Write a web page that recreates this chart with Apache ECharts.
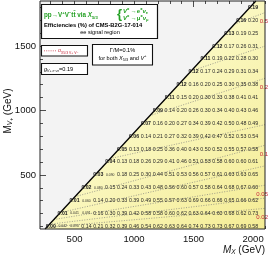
<!DOCTYPE html>
<html><head><meta charset="utf-8">
<script src="https://cdn.jsdelivr.net/npm/echarts@6/dist/echarts.min.js"></script>
<style>html,body{margin:0;padding:0;background:#fff}#c{width:270px;height:259px}</style>
</head><body><div id="c"></div>
<script>
// ---- data ----
const xTickLabels = [500, 1000, 1500, 2000];
const yTickLabels = [500, 1000, 1500];
const topMass = 173;               // kinematic boundary M_V+ = M_X - m_t
const rowsMV = [100,200,300,400,500,600,700,800,900,1000,1100,1200,1300,1400,1500,1600,1700,1800];
// efficiencies (%) per M_V+ row, first entry at M_X = M_V+ + 200, then every 100 GeV up to 2000
const eff_MV100  = [0.00,0.042,0.090,0.14,0.21,0.32,0.39,0.46,0.54,0.62,0.63,0.64,0.74,0.73,0.73,0.67,0.69,0.58];
const eff_MV200  = [0.01,0.041,0.091,0.16,0.30,0.39,0.42,0.58,0.58,0.60,0.62,0.63,0.64,0.60,0.68,0.62,0.73];
const eff_MV300  = [0.01,0.060,0.14,0.20,0.33,0.39,0.49,0.55,0.57,0.63,0.69,0.66,0.66,0.65,0.66,0.62];
const eff_MV400  = [0.02,0.080,0.15,0.24,0.33,0.43,0.48,0.56,0.60,0.57,0.58,0.64,0.68,0.67,0.60];
const eff_MV500  = [0.03,0.090,0.18,0.25,0.30,0.44,0.51,0.53,0.56,0.57,0.61,0.63,0.63,0.65];
const eff_MV600  = [0.04,0.13,0.18,0.26,0.29,0.41,0.46,0.51,0.53,0.58,0.60,0.60,0.61];
const eff_MV700  = [0.05,0.13,0.18,0.25,0.36,0.40,0.43,0.50,0.52,0.55,0.57,0.58];
const eff_MV800  = [0.06,0.14,0.21,0.27,0.32,0.39,0.42,0.47,0.52,0.53,0.54];
const eff_MV900  = [0.07,0.16,0.20,0.27,0.34,0.39,0.42,0.50,0.48,0.49];
const eff_MV1000 = [0.09,0.14,0.20,0.26,0.30,0.34,0.40,0.43,0.46];
const eff_MV1100 = [0.11,0.15,0.20,0.30,0.33,0.38,0.41,0.41];
const eff_MV1200 = [0.12,0.16,0.20,0.25,0.30,0.35,0.38];
const eff_MV1300 = [0.12,0.17,0.24,0.29,0.31,0.34];
const eff_MV1400 = [0.11,0.19,0.22,0.28,0.30];
const eff_MV1500 = [0.12,0.17,0.26,0.31];
const eff_MV1600 = [0.13,0.19,0.25];
const eff_MV1700 = [0.16,0.20];
const eff_MV1800 = [0.19];
const effRows = [eff_MV100,eff_MV200,eff_MV300,eff_MV400,eff_MV500,eff_MV600,eff_MV700,eff_MV800,eff_MV900,
  eff_MV1000,eff_MV1100,eff_MV1200,eff_MV1300,eff_MV1400,eff_MV1500,eff_MV1600,eff_MV1700,eff_MV1800];
// cross-section contours (M_X, M_V+) in GeV
const sigma_0p5  = [[1843,1670],[2100,1760]];
const sigma_0p3  = [[1480,1307],[2100,1500]];
const sigma_0p2  = [[1133,960],[2100,1250]];
const sigma_0p15 = [[800,627],[2100,890]];
const sigma_0p1  = [[504,331],[2100,730]];
const sigma_0p07 = [[380,207],[2100,570]];
const sigma_0p05 = [[327,154],[2100,420]];
const sigma_0p03 = [[290,117],[2100,320]];
const sigma_0p02 = [[266,93],[2100,240]];
const contourLines = [sigma_0p5,sigma_0p3,sigma_0p2,sigma_0p15,sigma_0p1,sigma_0p07,sigma_0p05,sigma_0p03,sigma_0p02];
const labelledContours = [['0.5',sigma_0p5],['0.2',sigma_0p2],['0.1',sigma_0p1],['0.05',sigma_0p05],['0.02',sigma_0p02]];

// ---- chart ----
const X0 = 210, X1 = 2100, Y0 = 80, Y1 = 1850;
const FONT = '"Liberation Sans", Arial, sans-serif';
const cells = [];
rowsMV.forEach((mv, i) => effRows[i].forEach((e, j) => cells.push([mv + 200 + 100 * j, mv, e, j === 0 ? 1 : 0])));

const xMinor = [], yMinor = [];
for (let m = 300; m <= 2100; m += 100) if (m % 500) xMinor.push(m);
for (let m = 100; m <= 1800; m += 100) if (m % 500) yMinor.push(m);

const diagPts = [[Y0 + topMass, Y0], [Y1 + topMass, Y1]];
const polyPts = [diagPts[0], diagPts[1], [X1, Y1], [X1, Y0]];

function axisX(pos, vals, len, labels) {
  return {type:'value', min:X0, max:X1, position:pos, axisLine:{show:false}, splitLine:{show:false},
    axisTick:{show:true, inside:true, length:len, customValues:vals, lineStyle:{color:'#222', width:0.8}},
    axisLabel:{show:labels, customValues:vals, formatter: v => String(v), fontSize:9.5, margin:5, color:'#111', fontFamily:FONT}};
}
function axisY(pos, vals, len, labels) {
  return {type:'value', min:Y0, max:Y1, position:pos, axisLine:{show:false}, splitLine:{show:false},
    axisTick:{show:true, inside:true, length:len, customValues:vals, lineStyle:{color:'#222', width:0.8}},
    axisLabel:{show:labels, customValues:vals, formatter: v => String(v), fontSize:9.5, margin:4, color:'#111', fontFamily:FONT}};
}

const series = [];
series.push({type:'custom', silent:true, z:1, data:[0], clip:true,
  renderItem:(p, api) => ({type:'polygon', shape:{points: polyPts.map(q => api.coord(q))},
    style:{fill: new echarts.graphic.LinearGradient(0,0,1,1,[{offset:0,color:'#fdfde6'},{offset:0.4,color:'#fbf9c6'},{offset:1,color:'#f4ec94'}])}})});
contourLines.forEach(c => series.push({type:'line', silent:true, z:2, data:c, symbol:'none', clip:true,
  lineStyle:{type:[1,1.5], color:'#7a7a7a', width:0.7}}));
series.push({type:'line', silent:true, z:3, data:diagPts, symbol:'none', lineStyle:{color:'#000', width:1.3}});
series.push({type:'custom', silent:true, z:4, data:cells, clip:true,
  renderItem:(p, api) => {
    const pt = api.coord([api.value(0), api.value(1)]);
    const e = api.value(2), diag = api.value(3) === 1;
    const tiny = !diag && e < 0.1;
    const txt = tiny ? e.toFixed(3) : e.toFixed(2);
    const font = diag ? 'bold 5.2px ' + FONT : (tiny ? '3.4px ' + FONT : '5.3px ' + FONT);
    return {type:'text', x:pt[0], y:pt[1], style:{text:txt, font:font, fill: diag ? '#222' : '#2a2a2a',
      align:'center', verticalAlign:'middle', textAlign:'center', textVerticalAlign:'middle'}};
  }});
series.push({type:'custom', silent:true, z:5, data:labelledContours.map(l => [l[1][l[1].length-1][0], l[1][l[1].length-1][1], l[0]]),
  renderItem:(p, api) => {
    const pt = api.coord([api.value(0), api.value(1)]);
    return {type:'text', x:pt[0] + 3, y:pt[1] + 9, style:{text: String(api.value(2)), font:'6px ' + FONT, fill:'#c8283a',
      align:'right', verticalAlign:'middle', textAlign:'right', textVerticalAlign:'middle'}};
  }, dimensions:['x','y',{name:'t',type:'ordinal'}]});

const green = '#23a023';
const graphic = [
  {type:'rect', z:50, shape:{x:40, y:1, width:225, height:228}, style:{fill:'none', stroke:'#222', lineWidth:1}},
  // box 1
  {type:'rect', z:60, shape:{x:41.5, y:4.5, width:116, height:34}, style:{fill:'#fff', stroke:'#111', lineWidth:1.2}},
  {type:'text', z:61, x:44, y:15, style:{text:'{g|pp→V}{gs|+}{g|V}{gs|−}{g|tt̄ via }{gi|X}{gb|5/3}',
    verticalAlign:'middle', textVerticalAlign:'middle',
    rich:{g:{fontSize:6.3, fontWeight:'bold', fill:green, color:green, fontFamily:FONT, lineHeight:9},
          gi:{fontSize:6.3, fontWeight:'bold', fontStyle:'italic', fill:green, color:green, fontFamily:FONT, lineHeight:9},
          gs:{fontSize:4.2, fontWeight:'bold', fill:green, color:green, fontFamily:FONT, verticalAlign:'top', lineHeight:9},
          gb:{fontSize:4.2, fontWeight:'bold', fill:green, color:green, fontFamily:FONT, verticalAlign:'bottom', lineHeight:9}}}},
  {type:'text', z:61, x:117, y:14.5, style:{text:'{', font:'bold 13px ' + FONT, fill:green, verticalAlign:'middle', textVerticalAlign:'middle'}},
  {type:'text', z:61, x:123, y:11, style:{text:'{gi|V}{gs|±}{g| →e}{gs|±}{gi|ν}{gb|e}', verticalAlign:'middle', textVerticalAlign:'middle',
    rich:{g:{fontSize:6, fontWeight:'bold', fill:green, color:green, fontFamily:FONT, lineHeight:8},
          gi:{fontSize:6, fontWeight:'bold', fontStyle:'italic', fill:green, color:green, fontFamily:FONT, lineHeight:8},
          gs:{fontSize:4, fontWeight:'bold', fill:green, color:green, fontFamily:FONT, verticalAlign:'top', lineHeight:8},
          gb:{fontSize:4, fontWeight:'bold', fill:green, color:green, fontFamily:FONT, verticalAlign:'bottom', lineHeight:8}}}},
  {type:'text', z:61, x:123, y:18, style:{text:'{gi|V}{gs|±}{g| →μ}{gs|±}{gi|ν}{gb|μ}', verticalAlign:'middle', textVerticalAlign:'middle',
    rich:{g:{fontSize:6, fontWeight:'bold', fill:green, color:green, fontFamily:FONT, lineHeight:8},
          gi:{fontSize:6, fontWeight:'bold', fontStyle:'italic', fill:green, color:green, fontFamily:FONT, lineHeight:8},
          gs:{fontSize:4, fontWeight:'bold', fill:green, color:green, fontFamily:FONT, verticalAlign:'top', lineHeight:8},
          gb:{fontSize:4, fontWeight:'bold', fill:green, color:green, fontFamily:FONT, verticalAlign:'bottom', lineHeight:8}}}},
  {type:'text', z:61, x:44, y:25, style:{text:'Efficiencies (%) of CMS-B2G-17-014', font:'bold 5.8px ' + FONT, fill:'#000', verticalAlign:'middle', textVerticalAlign:'middle'}},
  {type:'text', z:61, x:100, y:32, style:{text:'ee signal region', font:'5.6px ' + FONT, fill:'#000', align:'center', textAlign:'center', verticalAlign:'middle', textVerticalAlign:'middle'}},
  // box 2
  {type:'rect', z:60, shape:{x:41.5, y:45.5, width:46, height:10.5}, style:{fill:'#fff', stroke:'#111', lineWidth:1.1}},
  {type:'line', z:61, shape:{x1:44, y1:50.8, x2:56, y2:50.8}, style:{stroke:'#c8283a', lineWidth:0.7, lineDash:[1,1.2]}},
  {type:'text', z:61, x:58, y:51, style:{text:'{r|σ}{rb|X5/3 V+ V−}', verticalAlign:'middle', textVerticalAlign:'middle',
    rich:{r:{fontSize:5, fill:'#c8283a', color:'#c8283a', fontFamily:FONT, lineHeight:7},
          rb:{fontSize:3.4, fill:'#c8283a', color:'#c8283a', fontFamily:FONT, verticalAlign:'bottom', lineHeight:7}}}},
  // box 3
  {type:'rect', z:60, shape:{x:92.5, y:44.5, width:60, height:20.5}, style:{fill:'#fff', stroke:'#111', lineWidth:1.1}},
  {type:'text', z:61, x:122.5, y:50, style:{text:'Γ/M=0.1%', font:'5.6px ' + FONT, fill:'#000', align:'center', textAlign:'center', verticalAlign:'middle', textVerticalAlign:'middle'}},
  {type:'text', z:61, x:122.5, y:58, style:{text:'{n|for both }{i|X}{b|5/3}{n| and }{i|V}{s|+}', align:'center', textAlign:'center', verticalAlign:'middle', textVerticalAlign:'middle',
    rich:{n:{fontSize:5.6, fill:'#000', color:'#000', fontFamily:FONT, lineHeight:8},
          i:{fontSize:5.6, fontStyle:'italic', fill:'#000', color:'#000', fontFamily:FONT, lineHeight:8},
          s:{fontSize:3.8, fill:'#000', color:'#000', fontFamily:FONT, verticalAlign:'top', lineHeight:8},
          b:{fontSize:3.8, fill:'#000', color:'#000', fontFamily:FONT, verticalAlign:'bottom', lineHeight:8}}}},
  // box 4
  {type:'rect', z:60, shape:{x:41.5, y:63.5, width:46, height:11}, style:{fill:'#fff', stroke:'#111', lineWidth:1.1}},
  {type:'text', z:61, x:44, y:69, style:{text:'{i|g}{b|V+ e ν}{bb|e}{n|=0.19}', verticalAlign:'middle', textVerticalAlign:'middle',
    rich:{n:{fontSize:5.6, fill:'#000', color:'#000', fontFamily:FONT, lineHeight:8},
          i:{fontSize:5.6, fontStyle:'italic', fill:'#000', color:'#000', fontFamily:FONT, lineHeight:8},
          b:{fontSize:3.6, fontStyle:'italic', fill:'#000', color:'#000', fontFamily:FONT, verticalAlign:'bottom', lineHeight:8},
          bb:{fontSize:2.8, fill:'#000', color:'#000', fontFamily:FONT, verticalAlign:'bottom', lineHeight:8}}}},
  // axis titles
  {type:'text', z:61, x:265, y:250, style:{text:'{i|M}{b|X}{n| (GeV)}', align:'right', textAlign:'right', verticalAlign:'middle', textVerticalAlign:'middle',
    rich:{n:{fontSize:10, fill:'#111', color:'#111', fontFamily:FONT, lineHeight:12},
          i:{fontSize:10, fontStyle:'italic', fill:'#111', color:'#111', fontFamily:FONT, lineHeight:12},
          b:{fontSize:6.5, fontStyle:'italic', fill:'#111', color:'#111', fontFamily:FONT, verticalAlign:'bottom', lineHeight:12}}}},
  {type:'text', z:61, x:8, y:111, rotation:Math.PI/2, style:{text:'{n|M}{b|V}{s|+}{n| (GeV)}', align:'center', textAlign:'center', verticalAlign:'middle', textVerticalAlign:'middle',
    rich:{n:{fontSize:10, fill:'#111', color:'#111', fontFamily:FONT, lineHeight:12},
          b:{fontSize:6.5, fontStyle:'italic', fill:'#111', color:'#111', fontFamily:FONT, verticalAlign:'bottom', lineHeight:12},
          s:{fontSize:5, fill:'#111', color:'#111', fontFamily:FONT, verticalAlign:'bottom', lineHeight:10}}}}
];

const chart = echarts.init(document.getElementById('c'), null, {renderer:'canvas'});
chart.setOption({
  animation:false, backgroundColor:'#fff',
  grid:{left:40, right:5, top:1, bottom:30, show:true, backgroundColor:'#f3f3f3', borderWidth:0},
  xAxis:[axisX('bottom', xTickLabels, 6, true), axisX('bottom', xMinor, 3, false), axisX('top', xTickLabels, 6, false), axisX('top', xMinor, 3, false)],
  yAxis:[axisY('left', yTickLabels, 6, true), axisY('left', yMinor, 3, false), axisY('right', yTickLabels, 6, false), axisY('right', yMinor, 3, false)],
  series: series,
  graphic: graphic
});
</script></body></html>
